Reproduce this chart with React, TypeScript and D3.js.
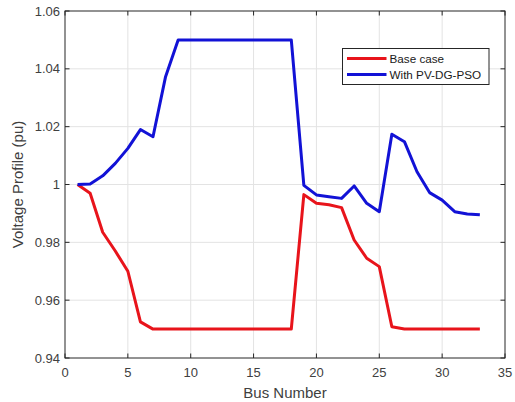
import React from "react";
import * as d3 from "d3";

// Bus indices of the 33-bus feeder
const buses = [
  1, 2, 3, 4, 5, 6, 7, 8, 9, 10, 11, 12, 13, 14, 15, 16, 17, 18, 19, 20, 21,
  22, 23, 24, 25, 26, 27, 28, 29, 30, 31, 32, 33,
];

// Voltage (pu) without DG
const baseCase = [
  1.0, 0.997, 0.9835, 0.977, 0.97, 0.9525, 0.95, 0.95, 0.95, 0.95, 0.95, 0.95,
  0.95, 0.95, 0.95, 0.95, 0.95, 0.95, 0.9965, 0.9935, 0.993, 0.992, 0.9808,
  0.9745, 0.9716, 0.9508, 0.95, 0.95, 0.95, 0.95, 0.95, 0.95, 0.95,
];

// Voltage (pu) with PV-DG sized by PSO
const withPvDgPso = [
  1.0, 1.0002, 1.003, 1.0073, 1.0125, 1.019, 1.0165, 1.0373, 1.05, 1.05, 1.05,
  1.05, 1.05, 1.05, 1.05, 1.05, 1.05, 1.05, 0.9997, 0.9964, 0.9958, 0.9952,
  0.9995, 0.9935, 0.9906, 1.0174, 1.0148, 1.0044, 0.9972, 0.9946, 0.9906,
  0.9898, 0.9895,
];

const xTicks = [0, 5, 10, 15, 20, 25, 30, 35];
const yTicks = [0.94, 0.96, 0.98, 1.0, 1.02, 1.04, 1.06];

const seriesList = [
  { name: "Base case", values: baseCase, color: "#e8141b" },
  { name: "With PV-DG-PSO", values: withPvDgPso, color: "#1212d6" },
];

const W = 515;
const H = 402;
const left = 65;
const right = 505;
const top = 11;
const bottom = 358;

const FONT = "Liberation Sans, Arial, Helvetica, sans-serif";
const AXIS = "#262626";
const GRID = "#e3e3e3";

export default function App() {
  const x = d3.scaleLinear().domain([0, 35]).range([left, right]);
  const y = d3.scaleLinear().domain([0.94, 1.06]).range([bottom, top]);

  const line = (vals: number[]) =>
    d3
      .line<number>()
      .x((_, i) => x(buses[i]))
      .y((v) => y(v))(vals) ?? "";

  const fmtY = (v: number) => (Math.abs(v - 1) < 1e-9 ? "1" : d3.format(".2f")(v));
  const tickLen = 4.5;

  const legX = 342.5;
  const legY = 48.5;
  const legW = 146.5;
  const legH = 36;

  return (
    <svg
      width={W}
      height={H}
      style={{ position: "absolute", left: 0, top: 0, background: "#fff" }}
      fontFamily={FONT}
    >
      <rect x={0} y={0} width={W} height={H} fill="#fff" />

      {/* grid */}
      {xTicks
        .filter((t) => t > 0 && t < 35)
        .map((t) => (
          <line key={"gx" + t} x1={x(t)} x2={x(t)} y1={top} y2={bottom} stroke={GRID} strokeWidth={1} />
        ))}
      {yTicks
        .filter((t) => t > 0.94 && t < 1.06)
        .map((t) => (
          <line key={"gy" + t} x1={left} x2={right} y1={y(t)} y2={y(t)} stroke={GRID} strokeWidth={1} />
        ))}

      {/* data lines */}
      {seriesList.map((s) => (
        <path
          key={s.name}
          d={line(s.values)}
          fill="none"
          stroke={s.color}
          strokeWidth={3}
          strokeLinejoin="round"
          strokeLinecap="butt"
        />
      ))}

      {/* axes box and ticks */}
      <rect x={left} y={top} width={right - left} height={bottom - top} fill="none" stroke={AXIS} strokeWidth={1} />
      {xTicks.map((t) => (
        <g key={"tx" + t}>
          <line x1={x(t)} x2={x(t)} y1={bottom} y2={bottom - tickLen} stroke={AXIS} />
          <line x1={x(t)} x2={x(t)} y1={top} y2={top + tickLen} stroke={AXIS} />
          <text x={x(t)} y={bottom + 19} fontSize={13} fill="#404040" textAnchor="middle">
            {t}
          </text>
        </g>
      ))}
      {yTicks.map((t) => (
        <g key={"ty" + t}>
          <line x1={left} x2={left + tickLen} y1={y(t)} y2={y(t)} stroke={AXIS} />
          <line x1={right} x2={right - tickLen} y1={y(t)} y2={y(t)} stroke={AXIS} />
          <text x={left - 5} y={y(t) + 4.5} fontSize={13} fill="#404040" textAnchor="end">
            {fmtY(t)}
          </text>
        </g>
      ))}

      {/* axis titles */}
      <text x={(left + right) / 2} y={398} fontSize={15} fill="#404040" textAnchor="middle">
        Bus Number
      </text>
      <text
        transform={`translate(23, ${(top + bottom) / 2}) rotate(-90)`}
        fontSize={15}
        fill="#404040"
        textAnchor="middle"
      >
        Voltage Profile (pu)
      </text>

      {/* legend */}
      <rect x={legX} y={legY} width={legW} height={legH} fill="#fff" stroke={AXIS} strokeWidth={1} />
      {seriesList.map((s, i) => {
        const cy = legY + 10 + i * 16;
        return (
          <g key={"leg" + s.name}>
            <line x1={legX + 4.5} x2={legX + 44} y1={cy} y2={cy} stroke={s.color} strokeWidth={3} />
            <text x={legX + 47} y={cy + 4} fontSize={11.7} fill="#202020">
              {s.name}
            </text>
          </g>
        );
      })}
    </svg>
  );
}
